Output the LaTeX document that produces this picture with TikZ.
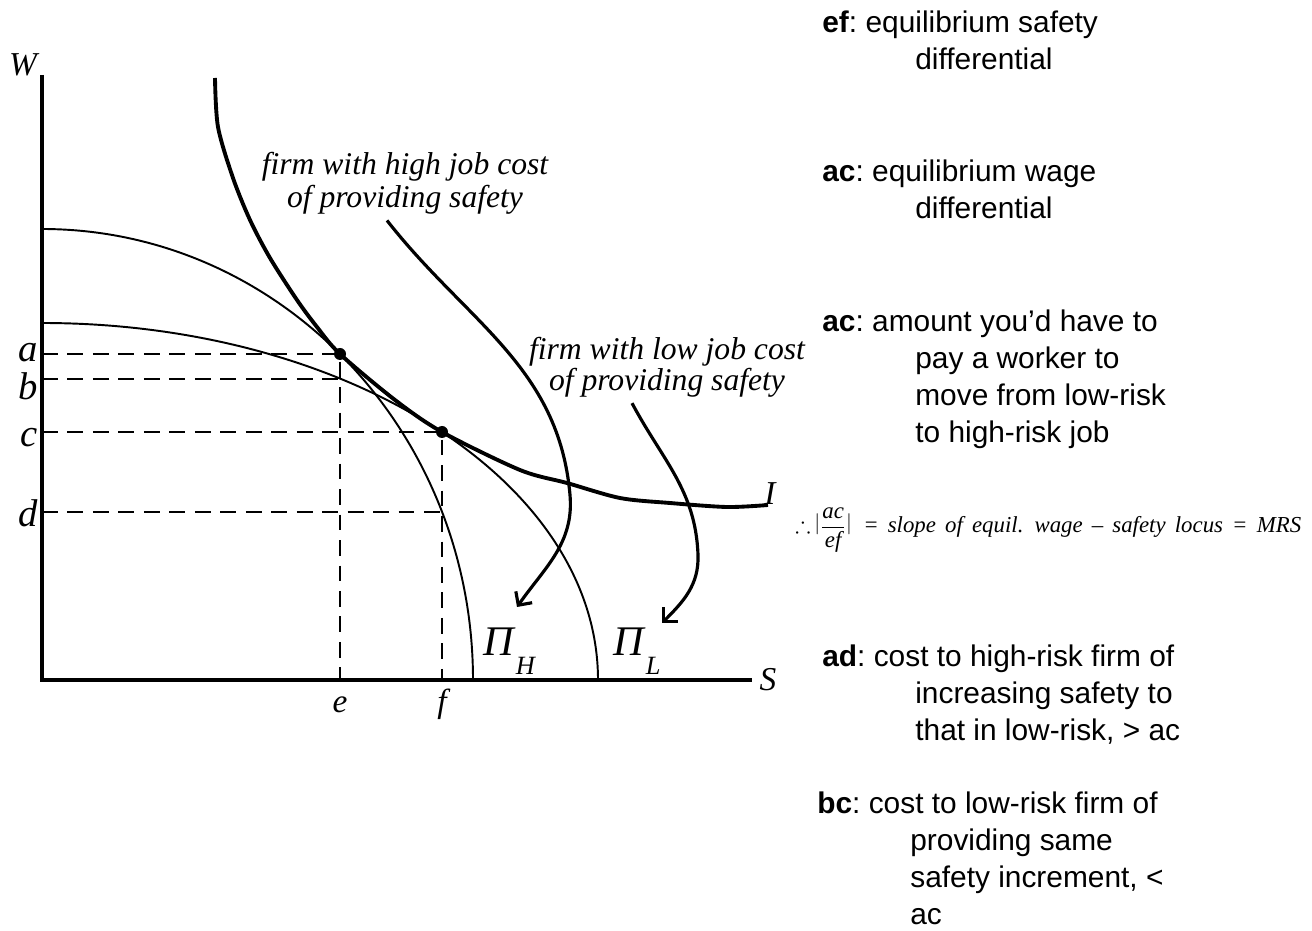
\documentclass[tikz,border=0pt]{standalone}
\usepackage{amsmath,amssymb}
\usepackage{fontspec}
\setmainfont{Liberation Serif}
\setsansfont{Liberation Sans}
\usepackage{tikz}
\usetikzlibrary{arrows.meta, positioning, calc}
\newcommand{\noteindent}{\hspace*{1.86cm}}

\begin{document}
\begin{tikzpicture}[
    x=0.02cm, y=0.02cm,
    axis/.style={line width=2.2pt},
    profit/.style={line width=1.1pt},
    indiff/.style={line width=2.2pt},
    guide/.style={line width=1.1pt, dash pattern=on 9pt off 5.5pt},
    arrow/.style={-{Straight Barb[angle=90:8pt]}, line width=1.8pt},
    axlabel/.style={font=\fontsize{19}{19}\selectfont\itshape, inner sep=0pt},
    levlabel/.style={font=\fontsize{22}{22}\selectfont\itshape, inner sep=0pt, anchor=base east},
    firm/.style={font=\fontsize{18}{19}\selectfont\itshape, align=center},
    note/.style={font=\sffamily\fontsize{17}{21}\selectfont\frenchspacing, align=left, anchor=north west, inner sep=0pt}
]
\useasboundingbox (-42,-250) rectangle (1270,680);

% Axes
\coordinate (O) at (0,0);
\draw[axis] (0,605) -- (O) -- (710,0);
\node[axlabel] (W) at (-19,615) {W};
\node[axlabel] (S) at (726,0) {S};

% Isoprofit curves
\draw[profit] (0,451) arc[start angle=90, end angle=0, x radius=431, y radius=451];
\draw[profit] (0,357) arc[start angle=90, end angle=0, x radius=556, y radius=357];
\node[anchor=base west, font=\fontsize{24}{24}\selectfont, inner sep=0pt] (piH) at (441,25)
    {\textit{Π}\raisebox{-11pt}{\fontsize{15}{15}\selectfont\textit{H}}};
\node[anchor=base west, font=\fontsize{24}{24}\selectfont, inner sep=0pt] (piL) at (571,25)
    {\textit{Π}\raisebox{-11pt}{\fontsize{15}{15}\selectfont\textit{L}}};

% Indifference curve
\draw[indiff] plot[smooth] coordinates {(173,602) (176,553) (191,502) (208,460) (228,422) (255,380)
    (275,353) (298,326) (353,280) (400,248) (478,210) (525,197) (578,182) (628,177) (685,173) (726,175)};
\node[axlabel] (I) at (728,186) {I};

% Tangency points and guides
\coordinate (A) at (298,326);
\coordinate (C) at (400,248);
\draw[guide] (0,326) -- (A) -- (298,0);
\draw[guide] (0,301) -- (298,301);
\draw[guide] (0,248) -- (C) -- (400,0);
\draw[guide] (0,168) -- (400,168);
\fill (A) circle[radius=6];
\fill (C) circle[radius=6];

\node[levlabel] (la) at (-4,318) {a};
\node[levlabel] (lb) at (-4,280) {b};
\node[levlabel] (lc) at (-4,233) {c};
\node[levlabel] (ld) at (-4,153) {d};
\node[axlabel, anchor=base] (le) at (298,-32) {e};
\node[axlabel, anchor=base] (lf) at (400,-32) {f};

% Firm labels
\node[firm] (hicost) at (363,497) {firm with high job cost\\of providing safety};
\node[firm, font=\fontsize{18}{14}\selectfont\itshape] (locost) at (625,313) {firm with low job cost\\of providing safety};
\coordinate (hitip) at (475,73);
\coordinate (lotip) at (620,57);
\draw[arrow] ([xshift=-0.36cm]hicost.south) to[out=-52, in=95] (528,185) to[out=-85, in=55] (hitip);
\draw[arrow] ([xshift=-0.7cm]locost.south) to[out=-62, in=92] (656,125) to[out=-88, in=45] (lotip);

% Slope note
\node[anchor=west, font=\fontsize{13}{13}\selectfont, inner sep=0pt] (mrs) at (753,150)
    {$\therefore$\,\raisebox{2pt}{$|$}$\dfrac{\textit{ac}}{\textit{ef}}$\raisebox{2pt}{$|$}\ \ {\spaceskip=0.4em\itshape = slope of equil. wage – safety locus = MRS}};

% Notes
\node[note] (n1) at (780,669) {\textbf{ef}: equilibrium safety\\\noteindent differential};
\node[note] (n2) at (780,520) {\textbf{ac}: equilibrium wage\\\noteindent differential};
\node[note] (n3) at (780,370) {\textbf{ac}: amount you’d have to\\\noteindent pay a worker to\\\noteindent move from low-risk\\\noteindent to high-risk job};
\node[note] (n4) at (780,35) {\textbf{ad}: cost to high-risk firm of\\\noteindent increasing safety to\\\noteindent that in low-risk, > ac};
\node[note] (n5) at (775,-112) {\textbf{bc}: cost to low-risk firm of\\\noteindent providing same\\\noteindent safety increment, <\\\noteindent ac};
\end{tikzpicture}
\end{document}
